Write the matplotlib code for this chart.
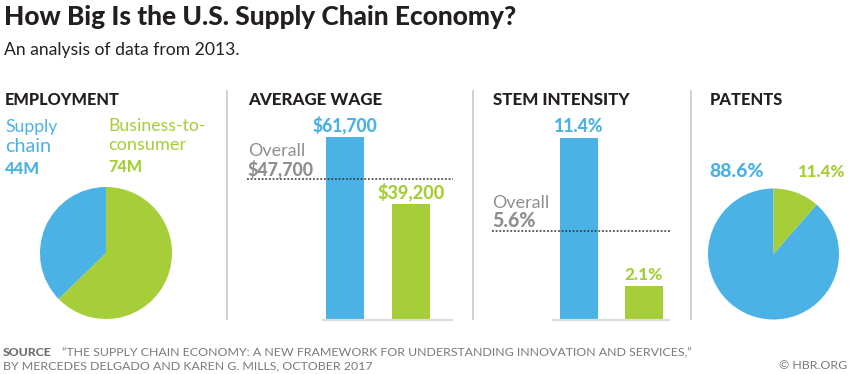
import matplotlib
matplotlib.use('Agg')
import matplotlib.pyplot as plt
from matplotlib.lines import Line2D

# ---------------- data ----------------
employment_labels = [['Supply', 'chain'], ['Business-to-', 'consumer']]
employment_millions = [44, 74]
wage_values = [61700, 39200]
wage_overall = 47700
stem_values = [11.4, 2.1]
stem_overall = 5.6
patent_shares = [88.6, 11.4]
panel_titles = ['EMPLOYMENT', 'AVERAGE WAGE', 'STEM INTENSITY', 'PATENTS']

# ---------------- style ----------------
W, H = 850, 374
BLUE = '#4BB2E5'
GREEN = '#A6CE39'
GRAY = '#8F8F8F'
DARK = '#231F20'
FONT = ['Lato', 'DejaVu Sans']
plt.rcParams['font.family'] = FONT
HEAVY = 'black'

fig = plt.figure(figsize=(W / 100, H / 100), dpi=100)
fig.patch.set_facecolor('white')
renderer = fig.canvas.get_renderer()


def fit(t, width):
    bb = t.get_window_extent(renderer)
    t.set_fontsize(t.get_fontsize() * width / bb.width)
    return t


def text(x, y, s, size=12, color=DARK, weight='normal', width=None, ha='left'):
    t = fig.text(x / W, 1 - y / H, s, fontsize=size, color=color,
                 fontweight=weight, ha=ha, va='baseline')
    if width:
        fit(t, width)
    return t


def ax_px(left, top, right, bottom):
    ax = fig.add_axes([left / W, 1 - bottom / H, (right - left) / W, (bottom - top) / H])
    ax.set_axis_off()
    return ax


# ---------------- title ----------------
text(4, 25, 'How Big Is the U.S. Supply Chain Economy?', 19, DARK, HEAVY, width=512)
text(4, 55, 'An analysis of data from 2013.', 12, DARK, width=234)

# panel headings
head_x = [5, 248, 493, 710]
head_w = [115, 135, 137, 73]
for x, s, w in zip(head_x, panel_titles, head_w):
    text(x, 105, s, 13, DARK, HEAVY, width=w)

# separators
for x in [226.5, 473, 691]:
    fig.add_artist(Line2D([x / W, x / W], [1 - 91 / H, 1 - 319 / H],
                          color='#C8C8C8', lw=1.2, transform=fig.transFigure))

# ---------------- employment pie ----------------
ax = ax_px(40, 187, 172, 319)
ax.pie(employment_millions, colors=[BLUE, GREEN], startangle=90, counterclock=True,
       wedgeprops=dict(linewidth=0))
ax.set_xlim(-1, 1)
ax.set_ylim(-1, 1)

text(5, 132, employment_labels[0][0], 13, BLUE, width=52)
text(5, 152, employment_labels[0][1], 13, BLUE, width=46)
text(5, 174, f'{employment_millions[0]}M', 13, BLUE, HEAVY, width=35)
text(108, 131, employment_labels[1][0], 13, GREEN, width=97)
text(108, 150, employment_labels[1][1], 13, GREEN, width=78)
text(108, 172, f'{employment_millions[1]}M', 13, GREEN, HEAVY, width=34)


# ---------------- bars helper ----------------
def bar_panel(values, overall, left, right, top, c0, spacing, base_l, base_r,
              labels, label_w, over_label, over_x, over_y):
    ax = ax_px(left, top, right, 320)
    x0 = (left - c0) / spacing
    x1 = (right - c0) / spacing
    ax.set_xlim(x0, x1)
    ax.set_ylim(0, values[0])
    ax.bar([0, 1], values, width=38 / spacing, color=[BLUE, GREEN], linewidth=0)
    ax.plot([(base_l - c0) / spacing, (base_r - c0) / spacing], [0, 0],
            color='#DDDDDD', lw=1.6, clip_on=False, solid_capstyle='butt')
    ax.axhline(overall, color='#333333', lw=1.1, ls=(0, (1.2, 1.2)))
    for i, (v, lab, c, w) in enumerate(zip(values, labels, [BLUE, GREEN], label_w)):
        t = ax.annotate(lab, xy=(i, v), xytext=(0, 6), textcoords='offset pixels',
                        ha='center', va='baseline', color=c, fontsize=13,
                        fontweight=HEAVY, annotation_clip=False)
        fit(t, w)
    text(over_x, over_y, 'Overall', 13, GRAY, width=over_label[1])
    text(over_x, over_y + 19, over_label[0], 13, GRAY, HEAVY, width=over_label[2])


bar_panel(wage_values, wage_overall, 247, 453, 137, 345, 66, 322, 453,
          [f'${v:,}' for v in wage_values], [65, 67],
          (f'${wage_overall:,}', 57, 66), 248, 156)

bar_panel(stem_values, stem_overall, 492, 670, 138, 579, 65, 552, 670,
          [f'{v}%' for v in stem_values], [49, 38],
          (f'{stem_overall}%', 57, 43), 492, 208)

# ---------------- patents pie ----------------
ax = ax_px(708, 188.5, 839, 319.5)
ax.pie(patent_shares, colors=[BLUE, GREEN], startangle=90, counterclock=True,
       wedgeprops=dict(linewidth=0))
ax.set_xlim(-1, 1)
ax.set_ylim(-1, 1)
text(709, 177, f'{patent_shares[0]}%', 13, BLUE, HEAVY, width=54)
text(797, 177, f'{patent_shares[1]}%', 13, GREEN, HEAVY, width=47)

# ---------------- footer ----------------
FG = '#7A7A7A'
s = text(3, 356, 'SOURCE', 9, '#6D6E71', HEAVY, width=49)
line2 = text(3, 369, 'BY MERCEDES DELGADO AND KAREN G. MILLS, OCTOBER 2017', 9, FG, width=370)
fs = line2.get_fontsize()
fig.text(62 / W, 1 - 356 / H,
         '\u201cTHE SUPPLY CHAIN ECONOMY: A NEW FRAMEWORK FOR UNDERSTANDING INNOVATION AND SERVICES,\u201d',
         fontsize=fs, color=FG, va='baseline')
text(847, 369, '\u00a9 HBR.ORG', fs, FG, ha='right')

fig.savefig('out.png', dpi=100, facecolor='white')
